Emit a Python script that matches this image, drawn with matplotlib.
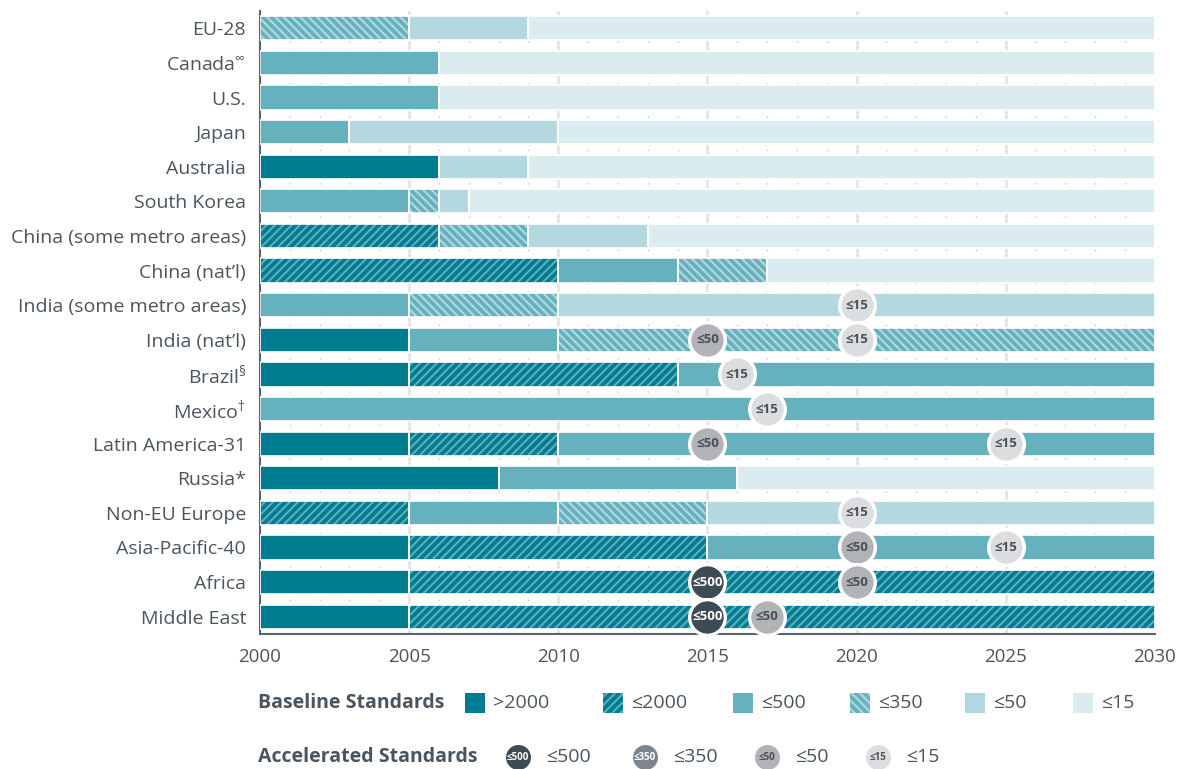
import matplotlib.pyplot as plt
from matplotlib.patches import Rectangle
from matplotlib.lines import Line2D

# rows, top to bottom
regions = ["EU-28", r"Canada$^{\infty}$", "U.S.", "Japan", "Australia", "South Korea",
           "China (some metro areas)", "China (nat\u2019l)", "India (some metro areas)",
           "India (nat\u2019l)", r"Brazil$^{\S}$", r"Mexico$^{\dagger}$", "Latin America-31",
           "Russia*", "Non-EU Europe", "Asia-Pacific-40", "Africa", "Middle East"]

# baseline standards: (start year, end year, level) per region
segments = [
    [(2000, 2005, "≤350"), (2005, 2009, "≤50"), (2009, 2030, "≤15")],
    [(2000, 2006, "≤500"), (2006, 2030, "≤15")],
    [(2000, 2006, "≤500"), (2006, 2030, "≤15")],
    [(2000, 2003, "≤500"), (2003, 2010, "≤50"), (2010, 2030, "≤15")],
    [(2000, 2006, ">2000"), (2006, 2009, "≤50"), (2009, 2030, "≤15")],
    [(2000, 2005, "≤500"), (2005, 2006, "≤350"), (2006, 2007, "≤50"), (2007, 2030, "≤15")],
    [(2000, 2006, "≤2000"), (2006, 2009, "≤350"), (2009, 2013, "≤50"), (2013, 2030, "≤15")],
    [(2000, 2010, "≤2000"), (2010, 2014, "≤500"), (2014, 2017, "≤350"), (2017, 2030, "≤15")],
    [(2000, 2005, "≤500"), (2005, 2010, "≤350"), (2010, 2030, "≤50")],
    [(2000, 2005, ">2000"), (2005, 2010, "≤500"), (2010, 2030, "≤350")],
    [(2000, 2005, ">2000"), (2005, 2014, "≤2000"), (2014, 2030, "≤500")],
    [(2000, 2030, "≤500")],
    [(2000, 2005, ">2000"), (2005, 2010, "≤2000"), (2010, 2030, "≤500")],
    [(2000, 2008, ">2000"), (2008, 2016, "≤500"), (2016, 2030, "≤15")],
    [(2000, 2005, "≤2000"), (2005, 2010, "≤500"), (2010, 2015, "≤350"), (2015, 2030, "≤50")],
    [(2000, 2005, ">2000"), (2005, 2015, "≤2000"), (2015, 2030, "≤500")],
    [(2000, 2005, ">2000"), (2005, 2030, "≤2000")],
    [(2000, 2005, ">2000"), (2005, 2030, "≤2000")],
]

# accelerated standards: row index, year, level
accel_row = [8, 9, 9, 10, 11, 12, 12, 14, 15, 15, 16, 16, 17, 17]
accel_year = [2020, 2015, 2020, 2016, 2017, 2015, 2025, 2020, 2020, 2025,
              2015, 2020, 2015, 2017]
accel_level = ["≤15", "≤50", "≤15", "≤15", "≤15", "≤50", "≤15", "≤15", "≤50", "≤15",
               "≤500", "≤50", "≤500", "≤50"]

base_levels = [">2000", "≤2000", "≤500", "≤350", "≤50", "≤15"]
accel_levels = ["≤500", "≤350", "≤50", "≤15"]

base_style = {
    ">2000": dict(color="#007C91", hatch=None, hc=None),
    "≤2000": dict(color="#007C91", hatch="////", hc="#5FAEBD"),
    "≤500": dict(color="#66B1BE", hatch=None, hc=None),
    "≤350": dict(color="#66B1BE", hatch="\\\\\\\\", hc="#B3D9E0"),
    "≤50": dict(color="#B3D8DF", hatch=None, hc=None),
    "≤15": dict(color="#DAECEF", hatch=None, hc=None),
}
accel_style = {
    "≤500": ("#3E4A54", "white"),
    "≤350": ("#7E868D", "white"),
    "≤50": ("#B1B3B6", "#4A5058"),
    "≤15": ("#DCDDDF", "#4A5058"),
}

TXT = "#4A5560"


def main():
    plt.rcParams["font.family"] = ["Open Sans", "DejaVu Sans"]
    plt.rcParams["mathtext.default"] = "regular"
    plt.rcParams["hatch.linewidth"] = 1.5

    fig = plt.figure(figsize=(11.79, 7.69), dpi=100)
    ax = fig.add_axes([260 / 1179, 1 - 634 / 769, 895 / 1179, 623 / 769])

    # grid: major every 5 years, dotted each year
    for yr in range(2001, 2030):
        if yr % 5:
            ax.axvline(yr, color="#C8C8C8", lw=1, ls=(0, (1, 5)), zorder=0)
        else:
            ax.axvline(yr, color="#E2E2E2", lw=1.8, zorder=0)

    h = 0.7
    for i, segs in enumerate(segments):
        for start, end, lev in segs:
            st = base_style[lev]
            if st["hatch"]:
                ax.barh(i, end - start, left=start, height=h, color=st["color"],
                        hatch=st["hatch"], edgecolor=st["hc"], linewidth=0, zorder=2)
            else:
                ax.barh(i, end - start, left=start, height=h, color=st["color"],
                        linewidth=0, zorder=2)
            ax.barh(i, end - start, left=start, height=h, fill=False,
                    edgecolor="white", linewidth=1.2, zorder=3)

    for y, yr, lev in zip(accel_row, accel_year, accel_level):
        fc, tc = accel_style[lev]
        ax.scatter(yr, y, s=660, color=fc, edgecolor="white", linewidth=2.4, zorder=5)
        ax.text(yr, y, lev, ha="center", va="center", fontsize=9.5,
                fontweight="bold", color=tc, zorder=6)

    ax.set_xlim(2000, 2030)
    ax.set_ylim(len(regions) - 0.5, -0.5)
    ax.set_yticks(range(len(regions)))
    ax.set_yticklabels(regions, fontsize=14, color=TXT)
    ax.set_xticks(range(2000, 2031, 5))
    ax.set_xticklabels([str(x) for x in range(2000, 2031, 5)], fontsize=13.5, color=TXT)
    ax.tick_params(length=0, pad=10)
    ax.tick_params(axis="x", pad=10)
    for s in ["top", "right"]:
        ax.spines[s].set_visible(False)
    ax.spines["left"].set_color("#5A636B")
    ax.spines["bottom"].set_color("#5A636B")
    ax.spines["left"].set_linewidth(1.5)
    ax.spines["bottom"].set_linewidth(1.5)

    # legend, baseline
    fig.text(258 / 1179, 1 - 703 / 769, "Baseline Standards", fontsize=14,
             fontweight="bold", color=TXT, va="center")
    patch_x = [465, 603, 733, 850, 965, 1073]
    for px, lev in zip(patch_x, base_levels):
        st = base_style[lev]
        r = Rectangle((px / 1179, 1 - 713 / 769), 20 / 1179, 20 / 769,
                      transform=fig.transFigure, facecolor=st["color"],
                      hatch=st["hatch"], edgecolor=st["hc"] or st["color"],
                      linewidth=0)
        fig.patches.append(r)
        fig.text((px + 28) / 1179, 1 - 703 / 769, lev, fontsize=14, color=TXT,
                 va="center")

    # legend, accelerated
    fig.text(258 / 1179, 1 - 757 / 769, "Accelerated Standards", fontsize=14,
             fontweight="bold", color=TXT, va="center")
    circ_x = [518, 645, 767, 878]
    for cx, lev in zip(circ_x, accel_levels):
        fc, tc = accel_style[lev]
        fig.add_artist(Line2D([cx / 1179], [1 - 757 / 769], marker="o",
                              markersize=18, color=fc, markeredgewidth=0,
                              transform=fig.transFigure))
        fig.text(cx / 1179, 1 - 757 / 769, lev, fontsize=7, fontweight="bold",
                 color=tc, ha="center", va="center")
        fig.text((cx + 28) / 1179, 1 - 757 / 769, lev, fontsize=14, color=TXT,
                 va="center")

    fig.savefig("out.png", dpi=100)


if __name__ == "__main__":
    main()
